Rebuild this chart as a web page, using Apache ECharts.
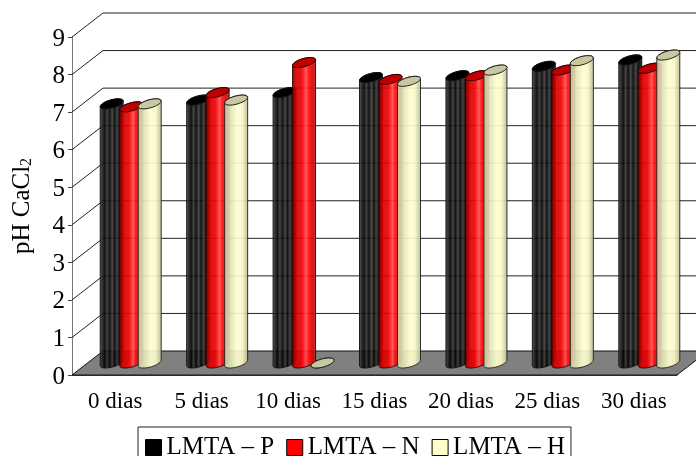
<!DOCTYPE html>
<html>
<head>
<meta charset="utf-8">
<style>html,body{margin:0;padding:0;background:#fff}#chart{width:696px;height:456px}</style>
<script src="https://cdn.jsdelivr.net/npm/echarts@6/dist/echarts.min.js"></script>
</head>
<body>
<div id="chart"></div>
<script>
const categories = ['0 dias', '5 dias', '10 dias', '15 dias', '20 dias', '25 dias', '30 dias'];
const yTicks = [1, 2, 3, 4, 5, 6, 7, 8, 9];
const lmtaP = [6.9, 7.0, 7.2, 7.6, 7.65, 7.9, 8.07];
const lmtaN = [6.82, 7.2, 8.0, 7.55, 7.65, 7.8, 7.85];
const lmtaH = [6.9, 7.0, 0, 7.5, 7.8, 8.05, 8.2];

const depthX = 31, depthY = 24; // caixa 3D do excel
const font = '"Liberation Serif", "Times New Roman", serif';

function ellipsePts(cx, cy, from, to) {
  const pts = [], rx = 11.5, ry = 4.2, tilt = 2.8;
  for (let i = 0; i <= 20; i++) {
    const t = from + (to - from) * i / 20;
    pts.push([cx + rx * Math.cos(t), cy + ry * Math.sin(t) - tilt * Math.cos(t)]);
  }
  return pts;
}

// cilindro: corpo + tampa, posicao vem de api.coord
function cylinder(offset, stops, lid, edge) {
  return function (params, api) {
    const top = api.coord([api.value(0), api.value(1)]);
    const base = api.coord([api.value(0), 0]);
    const cx = top[0] + depthX / 2 + offset;
    const yTop = top[1] - depthY / 2;
    const yBase = base[1] - depthY / 2;
    const body = ellipsePts(cx, yBase, 0, Math.PI).concat(ellipsePts(cx, yTop, Math.PI, 2 * Math.PI));
    return {
      type: 'group',
      children: [
        {
          type: 'polygon',
          shape: { points: body },
          style: {
            fill: { type: 'linear', x: 0, y: 0, x2: 1, y2: 0, colorStops: stops },
            stroke: edge, lineWidth: 1, opacity: 0.92
          }
        },
        {
          type: 'polygon',
          shape: { points: ellipsePts(cx, yTop, 0, 2 * Math.PI) },
          style: { fill: lid, stroke: edge, lineWidth: 1 }
        }
      ]
    };
  };
}

// paredes do fundo
function wallLine(params, api) {
  const cs = params.coordSys;
  const p = api.coord([0, api.value(0)]);
  const x0 = cs.x, x1 = cs.x + cs.width;
  return {
    type: 'polyline',
    shape: { points: [[x0, p[1]], [x0 + depthX, p[1] - depthY], [x1 + depthX, p[1] - depthY]] },
    style: { fill: 'none', stroke: '#222', lineWidth: 1 }
  };
}

function floor(params, api) {
  const cs = params.coordSys;
  const y = api.coord([0, 0])[1];
  const x0 = cs.x, x1 = cs.x + cs.width;
  return {
    type: 'polygon',
    shape: { points: [[x0, y], [x0 + depthX, y - depthY], [x1 + depthX, y - depthY], [x1, y]] },
    style: { fill: '#808080', stroke: '#111', lineWidth: 1 }
  };
}

function rows(values) {
  return values.map((v, i) => [i, v]);
}

const chart = echarts.init(document.getElementById('chart'));
chart.setOption({
  animation: false,
  backgroundColor: '#fff',
  grid: { left: 72, right: 19, top: 37, bottom: 81 },
  legend: {
    left: 138, top: 427,
    padding: [8, 6, 6, 7],
    borderColor: '#222', borderWidth: 1,
    itemWidth: 16, itemHeight: 16, itemGap: 12,
    icon: 'rect',
    itemStyle: { borderColor: '#000', borderWidth: 1 },
    textStyle: { fontFamily: font, fontSize: 25, color: '#000' },
    data: ['LMTA – P', 'LMTA – N', 'LMTA – H']
  },
  xAxis: {
    type: 'category',
    data: categories,
    axisLine: { lineStyle: { color: '#444', width: 1 } },
    axisTick: { length: 5, lineStyle: { color: '#444' } },
    axisLabel: { fontFamily: font, fontSize: 23, color: '#000', margin: 15 },
    splitLine: { show: false }
  },
  yAxis: {
    type: 'value', min: 0, max: 9, interval: 1,
    name: '{a|pH CaCl}{b|2}',
    nameLocation: 'middle', nameGap: 37,
    nameTextStyle: {
      rich: {
        a: { fontFamily: font, fontSize: 25, color: '#000' },
        b: { fontFamily: font, fontSize: 16, color: '#000', verticalAlign: 'bottom' }
      }
    },
    axisLine: { show: true, lineStyle: { color: '#777', width: 1 } },
    axisTick: { show: true, length: 4, lineStyle: { color: '#444' } },
    axisLabel: {
      margin: 7,
      formatter: '{v|{value}}',
      rich: { v: { fontFamily: font, fontSize: 25, color: '#000', padding: [4, 0, 0, 0] } }
    },
    splitLine: { show: false }
  },
  series: [
    { type: 'custom', z: 1, silent: true, renderItem: wallLine, data: yTicks.map(v => [v]), encode: { y: 0 } },
    { type: 'custom', z: 2, silent: true, renderItem: floor, data: [[0]], encode: { y: 0 } },
    {
      name: 'LMTA – P', type: 'custom', z: 3, itemStyle: { color: '#000', borderColor: '#000' },
      renderItem: cylinder(-19, [
        { offset: 0, color: '#555' }, { offset: 0.1, color: '#222' }, { offset: 0.22, color: '#000' },
        { offset: 0.3, color: '#333' }, { offset: 0.42, color: '#000' }, { offset: 0.52, color: '#3a3a3a' },
        { offset: 0.62, color: '#000' }, { offset: 0.72, color: '#333' }, { offset: 0.84, color: '#000' },
        { offset: 1, color: '#222' }
      ], '#000', '#111'),
      data: rows(lmtaP), encode: { x: 0, y: 1 }
    },
    {
      name: 'LMTA – N', type: 'custom', z: 4, itemStyle: { color: '#f00', borderColor: '#000' },
      renderItem: cylinder(0.5, [
        { offset: 0, color: '#700' }, { offset: 0.15, color: '#d00000' }, { offset: 0.4, color: '#ee0000' },
        { offset: 0.5, color: '#ff2020' }, { offset: 0.58, color: '#ff5050' }, { offset: 0.68, color: '#ff1010' },
        { offset: 0.85, color: '#e00000' }, { offset: 1, color: '#963030' }
      ], '#c00000', '#300'),
      data: rows(lmtaN), encode: { x: 0, y: 1 }
    },
    {
      name: 'LMTA – H', type: 'custom', z: 5, itemStyle: { color: '#ffffcc', borderColor: '#000' },
      renderItem: cylinder(19, [
        { offset: 0, color: '#c8c8a0' }, { offset: 0.55, color: '#ffffd0' },
        { offset: 0.75, color: '#f8f8c8' }, { offset: 1, color: '#b8b890' }
      ], '#c8c8a0', '#222'),
      data: rows(lmtaH), encode: { x: 0, y: 1 }
    }
  ]
});
</script>
</body>
</html>
